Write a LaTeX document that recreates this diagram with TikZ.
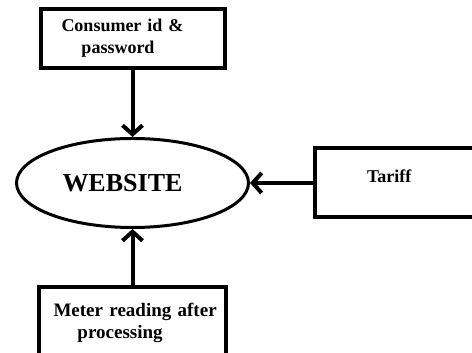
\documentclass[tikz,border=0pt]{standalone}
\usepackage{fontspec}
\setmainfont{Liberation Serif}
\usetikzlibrary{positioning,shapes.geometric,arrows.meta}

\begin{document}
\begin{tikzpicture}[x=1pt, y=1pt,
    box/.style = {draw, line width=4pt, align=left, inner ysep=0pt, font=\fontsize{18}{22}\selectfont\bfseries},
    web/.style = {draw, ellipse, line width=3pt, inner sep=0pt, minimum width=232pt, minimum height=89pt, text width=140pt, align=left, font=\fontsize{26}{30}\selectfont\bfseries},
    link/.style = {line width=4pt, -{Straight Barb[length=9pt, width=20pt]}}]
    \clip (0,0) rectangle (472,353);
    \node[web] (site) at (132.5,170) {WEBSITE}; 
    \node[box] (login) [above=67pt of site, text width=142pt, inner xsep=21pt, minimum height=59pt] {Consumer id \&\\\hspace*{20pt}password}; 
    \node[box] (meter) [below=56pt of site, text width=164pt, inner xsep=11.5pt, minimum height=72pt, font=\fontsize{19}{22}\selectfont\bfseries] {\mbox{\hspace*{3pt}Meter reading after}\\\hspace*{27pt}processing}; 
    \node[box] (tariff) [right=63pt of site, text width=71pt, inner xsep=52pt, minimum height=69pt, text depth=13pt] {Tariff}; 
    \draw[link] (login) -- (site); 
    \draw[link] (meter) -- (site); 
    \draw[link] (tariff) -- (site); 
\end{tikzpicture}
\end{document}
